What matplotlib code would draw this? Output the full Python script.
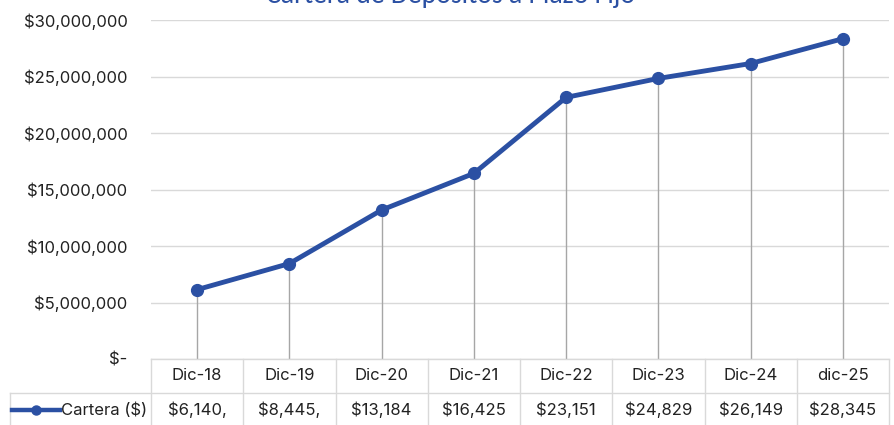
import matplotlib

matplotlib.use("Agg")
import matplotlib.pyplot as plt
from matplotlib.lines import Line2D
from matplotlib.ticker import FuncFormatter

periodos = ["Dic-18", "Dic-19", "Dic-20", "Dic-21", "Dic-22", "Dic-23", "Dic-24", "dic-25"]
cartera = [6140000, 8445000, 13184000, 16425000, 23151000, 24829000, 26149000, 28345000]
etiquetas_tabla = ["$6,140,", "$8,445,", "$13,184", "$16,425", "$23,151", "$24,829", "$26,149", "$28,345"]
serie = "Cartera ($)"
titulo = "Cartera de Depósitos a Plazo Fijo"

AZUL = "#2B50A3"
GRIS = "#D9D9D9"
TEXTO = "#222222"
plt.rcParams["font.family"] = ["Inter", "DejaVu Sans"]

W, H = 894, 425
fig = plt.figure(figsize=(W / 100, H / 100), dpi=100)
ax = fig.add_axes([151 / W, (H - 359) / H, (889 - 151) / W, (359 - 20) / H])

n = len(periodos)
x = list(range(n))
ax.set_xlim(-0.5, n - 0.5)
ax.set_ylim(0, 30000000)
ax.set_yticks(range(0, 30000001, 5000000))
ax.yaxis.set_major_formatter(FuncFormatter(lambda v, _: "$-" if v == 0 else f"${v:,.0f}"))
ax.tick_params(axis="y", length=0, pad=17, labelsize=12, labelcolor=TEXTO)
ax.tick_params(axis="x", length=0, labelbottom=False)
ax.grid(axis="y", color=GRIS, lw=1)
ax.set_axisbelow(True)
for s in ax.spines.values():
    s.set_visible(False)

# líneas verticales hasta el eje
ax.vlines(x, 0, cartera, color="#A6A6A6", lw=1, zorder=2)
ax.plot(x, cartera, color=AZUL, lw=3.5, marker="o", ms=8.5, zorder=3)

fig.text(0.504, 1.0 - 3 / H, titulo, ha="center", va="baseline", fontsize=20,
         color=AZUL, family=["Carlito", "Liberation Sans", "DejaVu Sans"])

# tabla de datos
tr = ax.get_xaxis_transform()
fila1_top, fila1_bot = 0.0, -34 / 339
fila2_bot = -70 / 339
x_izq_leyenda = (10 - 151) / (889 - 151) * n - 0.5
kw = dict(color=GRIS, lw=1, transform=tr, clip_on=False)
ax.add_line(Line2D([-0.5, n - 0.5], [fila1_top, fila1_top], **kw))
ax.add_line(Line2D([x_izq_leyenda, n - 0.5], [fila1_bot, fila1_bot], **kw))
for i in range(n + 1):
    ax.add_line(Line2D([i - 0.5, i - 0.5], [fila1_top, fila2_bot], **kw))
ax.add_line(Line2D([x_izq_leyenda, x_izq_leyenda], [fila1_bot, fila2_bot], **kw))

for i in range(n):
    ax.text(i, (fila1_top + fila1_bot) / 2, periodos[i], transform=tr, ha="center",
            va="center", fontsize=12, color=TEXTO)
    ax.text(i, (fila1_bot + fila2_bot) / 2 + 0.003, etiquetas_tabla[i], transform=tr,
            ha="center", va="center", fontsize=12, color=TEXTO)

# clave de la leyenda
y_ley = (fila1_bot + fila2_bot) / 2 + 0.003
x0 = (12 - 151) / (889 - 151) * n - 0.5
x1 = (60 - 151) / (889 - 151) * n - 0.5
ax.add_line(Line2D([x0, x1], [y_ley, y_ley], color=AZUL, lw=3.2, transform=tr, clip_on=False))
ax.plot([(x0 + x1) / 2], [y_ley], marker="o", ms=6.5, color=AZUL, transform=tr, clip_on=False)
ax.text(x1 + 0.01, y_ley, serie, transform=tr, ha="left", va="center", fontsize=12,
        color=TEXTO)

fig.savefig("out.png", dpi=100)
